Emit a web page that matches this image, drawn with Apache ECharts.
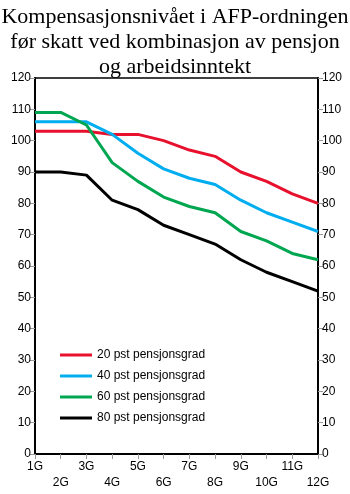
<!DOCTYPE html>
<html>
<head>
<meta charset="utf-8">
<script src="https://cdn.jsdelivr.net/npm/echarts@6/dist/echarts.min.js"></script>
<style>
    html, body { margin: 0; padding: 0; background: #fff; }
    #chart { width: 350px; height: 494px; }
</style>
</head>
<body>
<div id="chart"></div>
<script>
const categories = ["1G", "2G", "3G", "4G", "5G", "6G", "7G", "8G", "9G", "10G", "11G", "12G"];
const seriesNames = ["20 pst pensjonsgrad", "40 pst pensjonsgrad", "60 pst pensjonsgrad", "80 pst pensjonsgrad"];
const pst20 = [103, 103, 103, 102, 102, 100, 97, 95, 90, 87, 83, 80];
const pst40 = [106, 106, 106, 102, 96, 91, 88, 86, 81, 77, 74, 71];
const pst60 = [109, 109, 105, 93, 87, 82, 79, 77, 71, 68, 64, 62];
const pst80 = [90, 90, 89, 81, 78, 73, 70, 67, 62, 58, 55, 52];
const lineColors = ["#e8112d", "#00aeef", "#00a650", "#000000"];

const chart = echarts.init(document.getElementById("chart"));

// felles oppsett for begge y-aksene
function yAxis(pos) {
    return {
        type: "value",
        position: pos,
        min: 0,
        max: 120,
        interval: 10,
        axisLine: { show: true, lineStyle: { color: "#000", width: 2 } },
        axisTick: { show: true, length: 5, lineStyle: { color: "#999" } },
        axisLabel: { color: "#000", fontSize: 12, fontFamily: "Liberation Sans", margin: 4 },
        splitLine: { show: false },
    };
}

const data = [pst20, pst40, pst60, pst80];

chart.setOption({
    animation: false,
    title: {
        text: "Kompensasjonsnivået i AFP-ordningen\nfør skatt ved kombinasjon av pensjon\nog arbeidsinntekt",
        left: "center",
        top: 0,
        textStyle: {
            fontFamily: "Liberation Serif",
            fontWeight: "normal",
            fontSize: 22,
            lineHeight: 25,
            color: "#000",
        },
    },
    grid: {
        left: 35,
        right: 32,
        top: 78,
        bottom: 40,
        show: true,
        borderColor: "#000",
        borderWidth: 1.5,
    },
    legend: {
        orient: "vertical",
        left: 55,
        top: 344,
        itemWidth: 32,
        itemHeight: 3,
        itemGap: 9,
        icon: "rect",
        data: seriesNames,
        textStyle: { fontFamily: "Liberation Sans", fontSize: 12, color: "#000" },
    },
    xAxis: {
        type: "category",
        data: categories,
        boundaryGap: false,
        axisLine: { show: true, lineStyle: { color: "#000", width: 2 } },
        axisTick: { show: true, length: 5, alignWithLabel: true, lineStyle: { color: "#999" } },
        axisLabel: {
            interval: 0,
            color: "#000",
            fontSize: 12,
            fontFamily: "Liberation Sans",
            lineHeight: 16,
            margin: 5,
            formatter: (v, i) => (i % 2 === 1 ? "\n" + v : v),
        },
    },
    yAxis: [yAxis("left"), yAxis("right")],
    series: data.map((d, i) => ({
        name: seriesNames[i],
        type: "line",
        data: d,
        symbol: "none",
        lineStyle: { color: lineColors[i], width: 3 },
        itemStyle: { color: lineColors[i] },
    })),
});
</script>
</body>
</html>
